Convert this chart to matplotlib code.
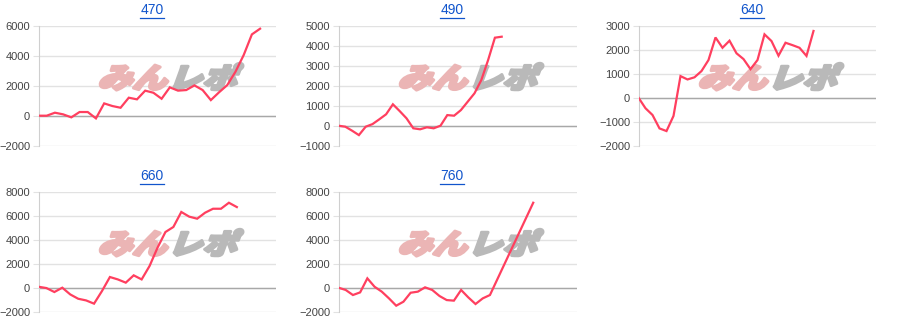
import matplotlib
matplotlib.use("Agg")
import matplotlib.pyplot as plt
import numpy as np
from matplotlib.font_manager import FontProperties
from matplotlib.textpath import TextPath
from matplotlib.patches import PathPatch
from matplotlib.transforms import Affine2D
from matplotlib.lines import Line2D

plt.rcParams["font.family"] = ["Liberation Sans", "DejaVu Sans"]

titles = ["470", "490", "640", "660", "760"]

vals_470 = [0, 0, 200, 90, -110, 245, 245, -180, 820, 645, 530, 1200, 1090, 1670,
            1530, 1130, 1890, 1670, 1710, 2020, 1710, 1040, 1560, 2040, 2930, 4040,
            5420, 5800]
vals_490 = [0, -50, -250, -470, -50, 80, 320, 570, 1070, 730, 370, -130, -180, -80,
            -130, 0, 530, 500, 780, 1200, 1620, 2280, 3280, 4400, 4450]
vals_640 = [0, -440, -720, -1280, -1390, -760, 900, 760, 850, 1110, 1570, 2510, 2080,
            2375, 1850, 1610, 1190, 1570, 2640, 2360, 1750, 2290, 2190, 2080, 1740, 2780]
vals_660 = [80, -30, -360, 0, -560, -920, -1060, -1330, -280, 890, 690, 420, 1030, 690,
            1810, 3330, 4640, 5060, 6310, 5920, 5750, 6250, 6580, 6580, 7080, 6720]
vals_760 = [0, -190, -610, -390, 780, 80, -330, -890, -1500, -1170, -420, -330, 30,
            -190, -690, -1030, -1080, -190, -810, -1360, -890, -610,
            None, None, None, None, None, 7080]

series = [vals_470, vals_490, vals_640, vals_660, vals_760]
slots = [30, 36, 35, 31, 34]
y_min = [-2000, -1000, -2000, -2000, -2000]
y_max = [6000, 5000, 3000, 8000, 8000]
y_step = [2000, 1000, 1000, 2000, 2000]

W, H = 900, 332
LINE = "#ff3f5f"
GRID = "#e2e2e2"


def px_axes(fig, left, top, width, height):
    return fig.add_axes([left / W, (H - top - height) / H, width / W, height / H])


def watermark(fig, ax, cx, cy):
    # logo-like "みんレポ" behind the line, drawn as skewed heavy text paths
    fp = FontProperties(family="Noto Sans CJK JP", weight="black")
    em = 33
    parts = [("みん", "#ebb5b5"), ("レポ", "#b9b9b9")]
    paths = [TextPath((0, 0), t, size=1, prop=fp) for t, _ in parts]
    widths = [p.get_extents().x1 for p in paths]
    gap = 0.05
    total = (sum(widths) + gap) * em
    x0 = cx - total / 2
    for (text, col), p, w in zip(parts, paths, widths):
        tr = (Affine2D().scale(em * 1.05, em * 0.85).skew_deg(20, 0)
              .translate(x0 - 4, H - cy - em * 0.33)
              + Affine2D().scale(1 / fig.dpi) + fig.dpi_scale_trans)
        patch = PathPatch(p, transform=tr, facecolor=col, edgecolor=col, lw=2.2,
                          joinstyle="round", zorder=1.5, clip_on=False)
        ax.add_patch(patch)
        x0 += (w + gap) * em * 1.05


def plot():
    fig = plt.figure(figsize=(9, 3.32), dpi=100)
    fig.patch.set_facecolor("white")

    title_texts = []
    for i, vals in enumerate(series):
        row, col = divmod(i, 3)
        ox, oy = col * 300, row * 166
        ax = px_axes(fig, ox + 38.5, oy + 25.7, 238, 120)

        y = np.array([np.nan if v is None else v for v in vals], dtype=float)
        x = np.arange(len(y))
        ok = ~np.isnan(y)
        ax.plot(x[ok], y[ok], color=LINE, lw=1.6, zorder=3, solid_joinstyle="miter")

        ax.set_xlim(0, slots[i] - 1)
        ax.set_ylim(y_min[i], y_max[i])
        ax.set_yticks(range(y_min[i], y_max[i] + 1, y_step[i]))
        ax.set_xticks([])
        ax.yaxis.grid(True, color=GRID, lw=1, zorder=0)
        ax.axhline(0, color="#a8a8a8", lw=1, zorder=1)
        for s in ["top", "right", "bottom"]:
            ax.spines[s].set_visible(False)
        ax.spines["left"].set_color("#cfcfcf")
        ax.tick_params(axis="y", length=4, color=GRID, pad=2, labelsize=8,
                       labelcolor="#444444")
        ax.set_axisbelow(True)

        watermark(fig, ax, ox + 167, oy + 77)

        t = fig.text((ox + 152) / W, 1 - (oy + 10.5) / H, titles[i], ha="center",
                     va="center", fontsize=10, color="#1155cc")
        title_texts.append(t)

    # underline the titles like links
    fig.canvas.draw()
    r = fig.canvas.get_renderer()
    for t in title_texts:
        bb = t.get_window_extent(renderer=r)
        yy = bb.y0 - 0.5
        fig.add_artist(Line2D([bb.x0 / W, bb.x1 / W], [yy / H, yy / H],
                              color="#1155cc", lw=0.9))

    fig.savefig("out.png", dpi=100)


if __name__ == "__main__":
    plot()
